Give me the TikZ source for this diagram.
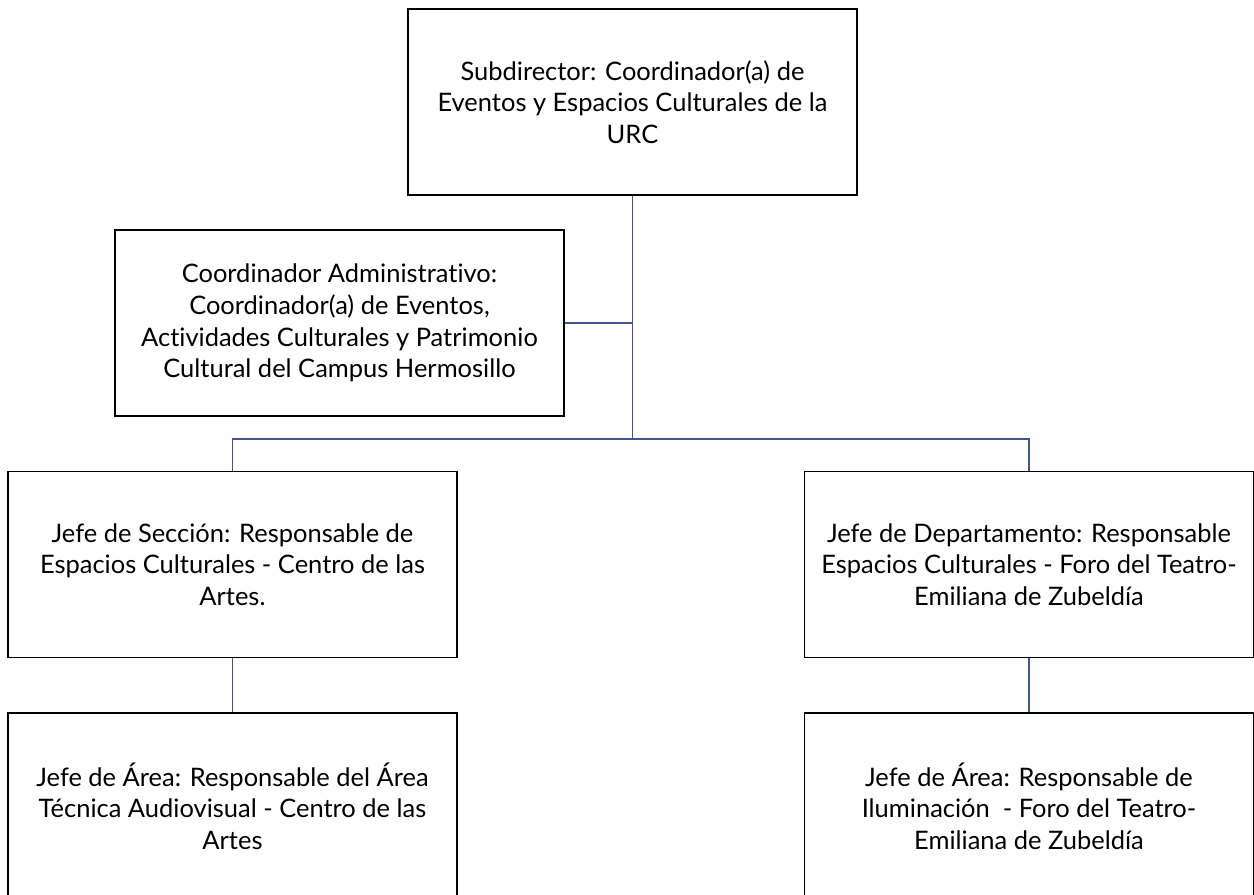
\documentclass[tikz,border=0pt]{standalone}
\usepackage{fontspec}
\setmainfont{Lato}[Ligatures=NoCommon]
\definecolor{conector}{RGB}{66,84,140}
\begin{document}
\begin{tikzpicture}[x=0.02cm,y=-0.02cm,
  cargo/.style={draw=black,line width=0.9pt,minimum width=8.98cm,minimum height=3.72cm,
    inner sep=0pt,align=center,font=\fontsize{14.5}{18}\selectfont},
  linea/.style={conector,line width=0.6pt}]
\useasboundingbox (0,0) rectangle (1254,894);
\clip (0,0) rectangle (1254,894);
\node[cargo] (sub)   at (632.5,102) {Subdirector: Coordinador(a) de\\Eventos y Espacios Culturales de la\\URC};
\node[cargo] (admin) at (339.5,323) {Coordinador Administrativo:\\Coordinador(a) de Eventos,\\Actividades Culturales y Patrimonio\\Cultural del Campus Hermosillo};
\node[cargo] (secc)  at (232.5,564.5) {Jefe de Sección: Responsable de\\Espacios Culturales - Centro de las\\Artes.};
\node[cargo] (depto) at (1029,564.5) {Jefe de Departamento: Responsable\\Espacios Culturales - Foro del Teatro-\\Emiliana de Zubeldía};
\node[cargo] (audio) at (232.5,806) {Jefe de Área: Responsable del Área\\Técnica Audiovisual - Centro de las\\Artes};
\node[cargo] (ilum)  at (1029,806) {Jefe de Área: Responsable de\\Iluminación~ - Foro del Teatro-\\Emiliana de Zubeldía};
\coordinate (bus) at (632.5,439);
% lineas
\draw[linea] (sub.south) -- (bus);
\draw[linea] (admin.east) -- (admin.east -| bus);
\draw[linea] (secc.north) -- (secc.north |- bus) -- (depto.north |- bus) -- (depto.north);
\draw[linea] (secc.south) -- (audio.north);
\draw[linea] (depto.south) -- (ilum.north);
\end{tikzpicture}
\end{document}
